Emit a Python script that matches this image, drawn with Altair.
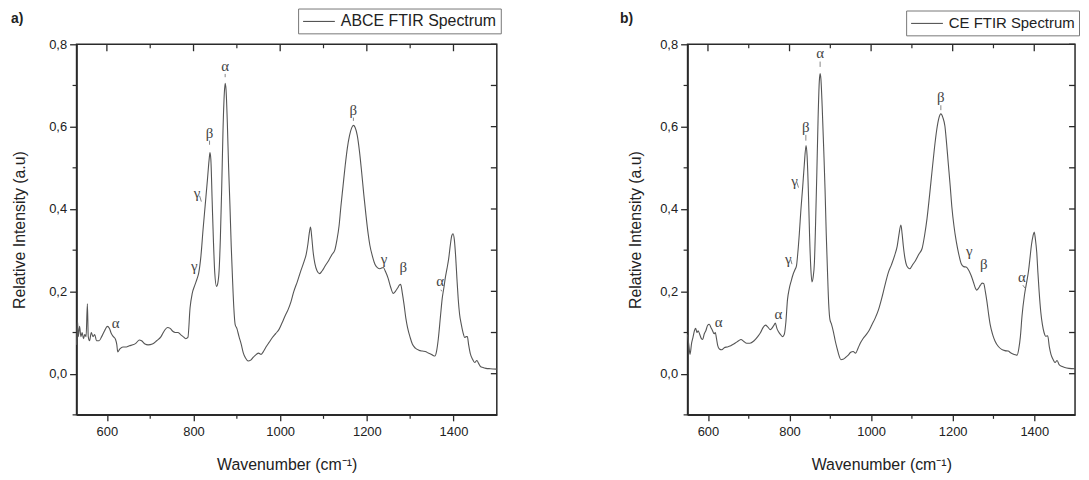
import altair as alt
import pandas as pd

# ---------------- data: panel a (ABCE) ----------------
a_wn = [530, 532, 534, 537, 540, 543, 546, 549, 552, 555, 557, 560, 564, 568, 572, 576, 582, 588, 595, 601,
        606, 610, 615, 620, 623, 625, 630, 637, 645, 652, 660, 668, 675, 680, 688, 695, 705, 715, 725, 733,
        740, 746, 752, 758, 764, 770, 776, 782, 787, 792, 797, 803, 808, 812, 817, 822, 827, 832, 836, 838,
        840, 843, 846, 849, 853, 856, 859, 862, 865, 868, 871, 873, 875, 878, 881, 884, 887, 890, 893, 896,
        900, 905, 910, 915, 920, 926, 932, 938, 945, 950, 956, 962, 968, 975, 982, 990, 997, 1005, 1012, 1018,
        1025, 1031, 1040, 1047, 1055, 1060, 1064, 1067, 1070, 1073, 1076, 1080, 1085, 1091, 1097, 1104, 1112, 1120, 1126, 1131,
        1136, 1140, 1145, 1150, 1155, 1160, 1165, 1169, 1173, 1178, 1183, 1188, 1193, 1198, 1203, 1207, 1213, 1219, 1225, 1230,
        1238, 1243, 1249, 1255, 1261, 1266, 1271, 1275, 1278, 1282, 1286, 1290, 1294, 1300, 1305, 1312, 1320, 1328, 1335, 1342,
        1347, 1352, 1357, 1361, 1365, 1370, 1374, 1378, 1381, 1385, 1389, 1393, 1396, 1399, 1402, 1405, 1408, 1411, 1414, 1418,
        1422, 1426, 1429, 1432, 1435, 1439, 1444, 1449, 1454, 1458, 1462, 1468, 1475, 1485, 1500]
a_val = [0.07, 0.13, 0.09, 0.115, 0.09, 0.10, 0.085, 0.095, 0.09, 0.17, 0.09, 0.08, 0.10, 0.09, 0.095, 0.08, 0.08, 0.09, 0.105, 0.115,
         0.11, 0.098, 0.09, 0.083, 0.07, 0.053, 0.06, 0.065, 0.065, 0.068, 0.07, 0.075, 0.082, 0.08, 0.072, 0.07, 0.072, 0.08, 0.09, 0.105,
         0.112, 0.11, 0.103, 0.10, 0.10, 0.095, 0.09, 0.085, 0.088, 0.16, 0.195, 0.215, 0.23, 0.245, 0.285, 0.35, 0.41, 0.47, 0.52, 0.537,
         0.52, 0.42, 0.32, 0.245, 0.212, 0.22, 0.25, 0.33, 0.45, 0.59, 0.68, 0.705, 0.69, 0.61, 0.50, 0.41, 0.31, 0.23, 0.16, 0.12,
         0.11, 0.09, 0.072, 0.05, 0.038, 0.031, 0.033, 0.04, 0.047, 0.05, 0.047, 0.055, 0.066, 0.077, 0.088, 0.098, 0.107, 0.125, 0.142, 0.155,
         0.175, 0.198, 0.225, 0.248, 0.272, 0.29, 0.315, 0.34, 0.356, 0.33, 0.296, 0.268, 0.25, 0.243, 0.25, 0.262, 0.275, 0.29, 0.30, 0.325,
         0.36, 0.405, 0.455, 0.505, 0.548, 0.578, 0.597, 0.603, 0.598, 0.578, 0.54, 0.49, 0.435, 0.385, 0.34, 0.312, 0.285, 0.265, 0.257, 0.255,
         0.258, 0.248, 0.232, 0.21, 0.195, 0.20, 0.208, 0.215, 0.217, 0.195, 0.167, 0.135, 0.112, 0.088, 0.072, 0.062, 0.057, 0.055, 0.054, 0.05,
         0.048, 0.045, 0.043, 0.055, 0.085, 0.14, 0.183, 0.21, 0.232, 0.255, 0.28, 0.315, 0.335, 0.34, 0.325, 0.285, 0.23, 0.18, 0.145, 0.12,
         0.10, 0.088, 0.09, 0.09, 0.07, 0.048, 0.035, 0.027, 0.032, 0.025, 0.018, 0.015, 0.013, 0.012, 0.011]

# ---------------- data: panel b (CE) ----------------
b_wn = [550, 553, 556, 560, 563, 567, 570, 573, 576, 580, 584, 587, 591, 595, 599, 603, 607, 611, 615, 618,
        621, 624, 628, 634, 640, 647, 654, 661, 668, 675, 681, 688, 695, 703, 713, 722, 729, 735, 741, 747,
        753, 758, 762, 765, 769, 773, 778, 783, 787, 791, 795, 799, 804, 809, 813, 817, 820, 824, 828, 832,
        836, 840.5, 843, 846, 849, 852, 855, 858, 861, 864, 867, 870, 873, 875, 877, 880, 884, 887, 890, 893,
        896, 899, 903, 908, 912, 917, 922, 926, 931, 938, 944, 950, 956, 962, 968, 974, 980, 988, 995, 1002,
        1010, 1018, 1026, 1034, 1042, 1050, 1058, 1064, 1068, 1073, 1076, 1079, 1083, 1087, 1091, 1095, 1102, 1109, 1117, 1125,
        1131, 1137, 1143, 1149, 1155, 1161, 1166, 1171, 1176, 1181, 1185, 1189, 1194, 1198, 1203, 1209, 1215, 1221, 1227, 1233,
        1239, 1245, 1251, 1256, 1259, 1263, 1268, 1272, 1276, 1280, 1284, 1288, 1292, 1298, 1304, 1312, 1320, 1328, 1336, 1342,
        1348, 1354, 1358, 1362, 1366, 1370, 1376, 1381, 1386, 1390, 1393, 1397, 1400, 1403, 1406, 1409, 1412, 1416, 1420, 1424,
        1428, 1433, 1437, 1441, 1446, 1451, 1456, 1461, 1467, 1475, 1485, 1500]
b_val = [0.095, 0.07, 0.047, 0.075, 0.087, 0.105, 0.11, 0.10, 0.104, 0.095, 0.085, 0.083, 0.097, 0.105, 0.117, 0.12, 0.113, 0.105, 0.097, 0.10,
         0.085, 0.068, 0.06, 0.058, 0.063, 0.065, 0.067, 0.071, 0.075, 0.08, 0.083, 0.078, 0.074, 0.074, 0.08, 0.09, 0.10, 0.112, 0.118, 0.113,
         0.107, 0.112, 0.118, 0.123, 0.11, 0.102, 0.095, 0.09, 0.095, 0.125, 0.18, 0.205, 0.225, 0.242, 0.252, 0.262, 0.29, 0.34, 0.40, 0.45,
         0.505, 0.554, 0.53, 0.45, 0.34, 0.26, 0.223, 0.235, 0.27, 0.37, 0.49, 0.62, 0.71, 0.729, 0.715, 0.65, 0.54, 0.45, 0.34, 0.25,
         0.17, 0.132, 0.12, 0.10, 0.08, 0.06, 0.042, 0.034, 0.035, 0.04, 0.045, 0.052, 0.054, 0.05, 0.062, 0.075, 0.085, 0.095, 0.105, 0.119,
         0.135, 0.155, 0.183, 0.215, 0.245, 0.265, 0.288, 0.31, 0.336, 0.361, 0.34, 0.31, 0.28, 0.263, 0.257, 0.255, 0.265, 0.275, 0.29, 0.304,
         0.335, 0.376, 0.43, 0.488, 0.545, 0.593, 0.62, 0.631, 0.622, 0.601, 0.56, 0.513, 0.455, 0.405, 0.36, 0.32, 0.29, 0.267, 0.26, 0.259,
         0.252, 0.239, 0.222, 0.207, 0.203, 0.207, 0.215, 0.22, 0.219, 0.20, 0.175, 0.145, 0.119, 0.095, 0.079, 0.066, 0.059, 0.056, 0.055, 0.051,
         0.048, 0.046, 0.045, 0.06, 0.09, 0.14, 0.191, 0.22, 0.25, 0.285, 0.312, 0.335, 0.344, 0.325, 0.296, 0.245, 0.199, 0.15, 0.119, 0.10,
         0.091, 0.092, 0.065, 0.047, 0.035, 0.027, 0.032, 0.022, 0.018, 0.015, 0.013, 0.012]

# ---------------- peak annotations ----------------
a_lab_text = ["α", "γ", "γ", "β", "α", "β", "γ", "β", "α"]
a_lab_wn = [620, 802, 808, 837, 873, 1169, 1240, 1284, 1369]
a_lab_val = [0.122, 0.262, 0.438, 0.585, 0.748, 0.64, 0.278, 0.258, 0.224]

b_lab_text = ["α", "α", "γ", "γ", "β", "α", "β", "γ", "β", "α"]
b_lab_wn = [626, 773, 797, 812, 840, 875, 1171, 1241, 1276, 1370]
b_lab_val = [0.126, 0.146, 0.278, 0.467, 0.600, 0.779, 0.672, 0.299, 0.266, 0.234]

# small leader strokes (from -> to)
a_lead_x1 = [837, 873, 1169, 814, 1371]
a_lead_y1 = [0.566, 0.728, 0.622, 0.432, 0.204]
a_lead_x2 = [837, 873, 1169, 818, 1373]
a_lead_y2 = [0.556, 0.720, 0.614, 0.418, 0.200]

b_lead_x1 = [840, 875, 1171, 818, 803, 1372]
b_lead_y1 = [0.580, 0.758, 0.652, 0.465, 0.277, 0.215]
b_lead_x2 = [840, 875, 1171, 822, 806, 1378]
b_lead_y2 = [0.566, 0.745, 0.640, 0.452, 0.266, 0.207]

x_major = [600, 800, 1000, 1200, 1400]
x_minor = [700, 900, 1100, 1300]
y_major = [0.0, 0.2, 0.4, 0.6, 0.8]
y_minor = [-0.1, 0.1, 0.3, 0.5, 0.7]
y_all = [-0.1, 0.0, 0.1, 0.2, 0.3, 0.4, 0.5, 0.6, 0.7, 0.8]

FONT = "Liberation Sans"
AX = "#2a2a2a"
LINE = "#555555"
H = 373


def panel(wn, val, series, lab_t, lab_x, lab_y, l_x1, l_y1, l_x2, l_y2,
          xmin, width, tag, tagx, legx, legy, legsize, ytp):
    xs = alt.Scale(domain=[xmin, 1500], nice=False, zero=False)
    ys = alt.Scale(domain=[-0.1, 0.8], nice=False, zero=False)
    df = pd.DataFrame({"wn": wn, "val": val, "series": [series] * len(wn)})

    xaxis = alt.Axis(values=x_major, format="d", title="Wavenumber (cm⁻¹)",
                     labelFont=FONT, labelFontSize=13, labelColor="#222", labelPadding=5,
                     tickSize=6, tickColor=AX, tickWidth=1.3, domainColor=AX, domainWidth=1.5,
                     titleFont=FONT, titleFontSize=16, titleFontWeight="normal", titleColor="#222",
                     titlePadding=18, grid=False)
    yaxis = alt.Axis(values=y_major, labelExpr="replace(format(datum.value, '.1f'), '.', ',')",
                     title="Relative Intensity (a.u)",
                     labelFont=FONT, labelFontSize=13, labelColor="#222", labelPadding=3,
                     tickSize=7, tickColor=AX, tickWidth=1.3, domainColor=AX, domainWidth=1.5,
                     titleFont=FONT, titleFontSize=16, titleFontWeight="normal", titleColor="#222",
                     titlePadding=ytp, grid=False)

    def X(f):
        return alt.X(f, scale=xs, axis=xaxis)

    def Y(f):
        return alt.Y(f, scale=ys, axis=yaxis)

    line = alt.Chart(df).mark_line(strokeWidth=1.1, interpolate="monotone").encode(
        x=X("wn:Q"),
        y=Y("val:Q"),
        color=alt.Color("series:N", scale=alt.Scale(range=[LINE]),
                        legend=alt.Legend(title=None, orient="none", legendX=legx, legendY=legy,
                                          symbolType="M-2,0H2", symbolSize=256, symbolStrokeWidth=1.1,
                                          symbolOffset=8, labelOffset=13,
                                          labelFont=FONT, labelFontSize=legsize, labelColor="#222",
                                          strokeColor="#777", padding=4, fillColor="white")),
    )

    labdf = pd.DataFrame({"wn": lab_x, "val": lab_y, "t": lab_t})
    labels = alt.Chart(labdf).mark_text(font="Liberation Serif", fontSize=15, color="#444",
                                         baseline="middle", align="center").encode(
        x=X("wn:Q"), y=Y("val:Q"), text="t:N",
    )

    leaddf = pd.DataFrame({"wn": l_x1, "val": l_y1, "x2": l_x2, "y2": l_y2})
    leaders = alt.Chart(leaddf).mark_rule(color="#777", strokeWidth=0.9).encode(
        x=X("wn:Q"), y=Y("val:Q"), x2="x2:Q", y2="y2:Q",
    )

    # mirrored / minor ticks
    xmaj = pd.DataFrame({"wn": x_major})
    xmin_df = pd.DataFrame({"wn": x_minor})
    ymin_df = pd.DataFrame({"val": y_minor})
    yall_df = pd.DataFrame({"val": y_all})

    top_major = alt.Chart(xmaj).mark_rule(color=AX, strokeWidth=1.3).encode(
        x=X("wn:Q"), y=alt.value(0), y2=alt.value(7))
    top_minor = alt.Chart(xmin_df).mark_rule(color=AX, strokeWidth=1.2).encode(
        x=X("wn:Q"), y=alt.value(0), y2=alt.value(4))
    bot_minor = alt.Chart(xmin_df).mark_rule(color=AX, strokeWidth=1.2).encode(
        x=X("wn:Q"), y=alt.value(H), y2=alt.value(H + 4))
    right_ticks = alt.Chart(yall_df).mark_rule(color=AX, strokeWidth=1.3).encode(
        y=Y("val:Q"), x=alt.value(width - 6), x2=alt.value(width))
    left_minor = alt.Chart(ymin_df).mark_rule(color=AX, strokeWidth=1.2).encode(
        y=Y("val:Q"), x=alt.value(-4), x2=alt.value(0))

    tagc = alt.Chart(pd.DataFrame({"t": [tag]})).mark_text(
        font=FONT, fontSize=14, fontWeight="bold", color="#222", align="left", baseline="middle").encode(
        text="t:N", x=alt.value(tagx), y=alt.value(-25))

    return alt.layer(line, labels, leaders, top_major, top_minor, bot_minor,
                     right_ticks, left_minor, tagc).properties(width=width, height=H)


pa = panel(a_wn, a_val, "ABCE FTIR Spectrum", a_lab_text, a_lab_wn, a_lab_val,
           a_lead_x1, a_lead_y1, a_lead_x2, a_lead_y2, 530, 423, "a)", -66, 223, -36, 16, 21)
pb = panel(b_wn, b_val, "CE FTIR Spectrum", b_lab_text, b_lab_wn, b_lab_val,
           b_lead_x1, b_lead_y1, b_lead_x2, b_lead_y2, 550, 390, "b)", -68, 220, -34, 15, 16)

chart = alt.hconcat(pa, pb, spacing=117).resolve_scale(color="independent").configure_view(
    stroke=AX, strokeWidth=1.5).properties(padding={"left": 2, "top": -3, "right": 0, "bottom": 0})

chart.save("out.html", embed_options={"renderer": "svg", "actions": False})
